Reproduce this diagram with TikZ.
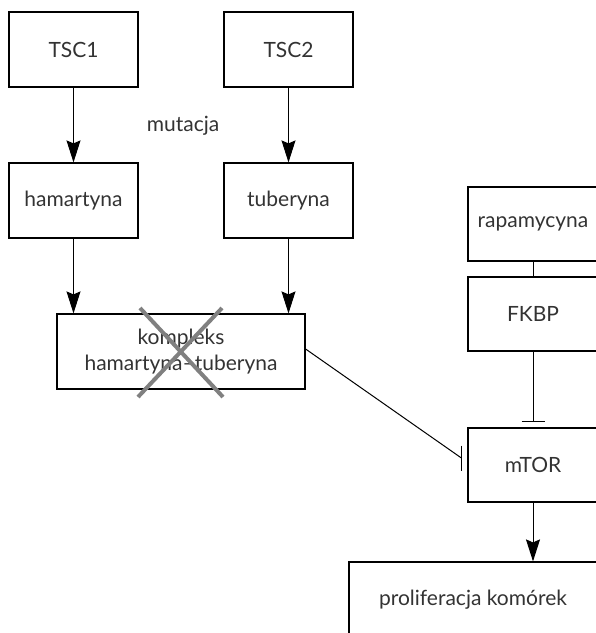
\documentclass[tikz,border=0pt]{standalone}
\usepackage{fontspec}
\setmainfont{Lato}
\usetikzlibrary{arrows.meta,calc}
\tikzset{
  txt/.style={font=\fontsize{21}{26}\selectfont, text=black!80},
  box/.style={draw, line width=1.2pt, rectangle, minimum width=129pt, minimum height=75pt,
    inner sep=0pt, txt},
  widebox/.style={box, minimum width=248pt},
  arr/.style={line width=1pt, -{Stealth[length=22pt,width=14pt,inset=3pt]}},
  plain/.style={line width=1pt},
  barline/.style={line width=1.5pt}
}
\begin{document}
\begin{tikzpicture}[x=1pt,y=-1pt]
\path[use as bounding box] (0,0) rectangle (596,633);
\clip (0,0) rectangle (596,633);
\node[box] (tsc1) at (73.5,49.5) {TSC1};
\node[box] (tsc2) at (288.5,49.5) {TSC2};
\node[txt] (mut) at (183,126) {mutacja};
\node[box] (ham) at (73.5,200.5) {hamartyna};
\node[box] (tub) at (288.5,200.5) {tuberyna};
\node[widebox, align=center] (kom) at (181,351.5) {kompleks\\hamartyna--tuberyna};
\node[box, minimum width=130pt, minimum height=74pt] (rap) at (533,224) {rapamycyna};
\node[box, minimum width=130pt, minimum height=74pt] (fkbp) at (533,314) {FKBP};
\node[box, minimum width=130pt, minimum height=74pt] (mtor) at (533,465) {mTOR};
\node[widebox] (prol) at (473,599.5) {proliferacja komórek};
% gray cross
\draw[line width=4pt, black!50] (140,308) -- (223,397) (222,308) -- (138,397);
% arrows
\draw[arr] (tsc1) -- (ham);
\draw[arr] (tsc2) -- (tub);
\draw[arr] (ham) -- (ham |- kom.north);
\draw[arr] (tub) -- (tub |- kom.north);
\draw[arr] (mtor) -- (mtor |- prol.north);
\draw[plain] (rap) -- (fkbp);
% inhibition FKBP -> mTOR
\coordinate (fb) at ($(mtor.north)+(0,-6)$);
\draw[plain] (fkbp) -- (fb);
\draw[barline] ($(fb)+(-11.5,0)$) -- ($(fb)+(11.5,0)$);
% inhibition kompleks -> mTOR
\coordinate (ks) at ($(kom.east)+(0,-2.5)$);
\coordinate (ke) at ($(mtor.west)+(-6,-7)$);
\draw[plain] (ks) -- (ke);
\draw[barline] ($(ke)+(0,-12.5)$) -- ($(ke)+(0,12.5)$);
\end{tikzpicture}
\end{document}
